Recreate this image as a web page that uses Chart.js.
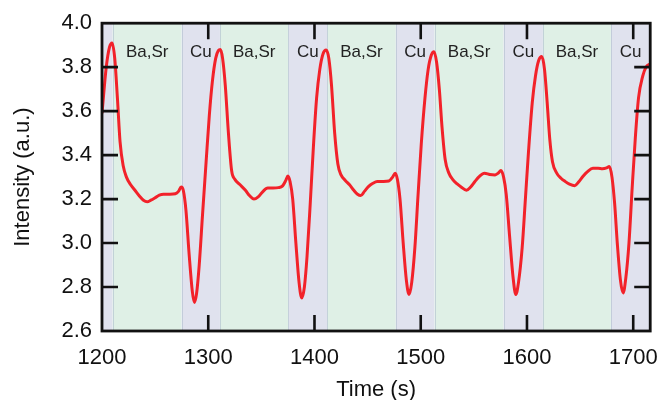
<!DOCTYPE html>
<html>
<head>
<meta charset="utf-8">
<script src="https://cdn.jsdelivr.net/npm/chart.js@4"></script>
<style>
  html, body { margin: 0; padding: 0; background: #ffffff; }
  #wrap { width: 672px; height: 400px; }
</style>
</head>
<body>
<div id="wrap"><canvas id="c" width="672" height="400"></canvas></div>
<script>
// Measured optical-emission intensity over time
const timeS = [
  1200, 1204, 1207, 1209.5, 1212, 1214.5, 1217, 1220, 1223, 1227, 1231, 1235, 1239, 1242.5, 1246, 1250,
  1254, 1258, 1264, 1269, 1272, 1274.5, 1276.5, 1279, 1282, 1285, 1287, 1289, 1291.5, 1294.5, 1298,
  1301, 1304, 1307, 1309.5, 1311.5, 1313.5, 1316, 1319, 1322, 1325, 1330, 1335, 1339, 1343, 1347,
  1351, 1356, 1361, 1366, 1370, 1373, 1375, 1377, 1379.5, 1382.5, 1385.5, 1388, 1390.5, 1393, 1396,
  1399, 1402, 1405, 1408, 1411, 1413.5, 1416, 1419, 1422, 1425, 1429, 1433, 1437, 1440.5, 1443.5,
  1447, 1451, 1455, 1459, 1465, 1470, 1473.5, 1476, 1478, 1480.5, 1483.5, 1486.5, 1489, 1491.5, 1494.5,
  1497.5, 1500.5, 1504, 1507, 1510, 1512.5, 1515, 1517.5, 1520, 1523, 1526.5, 1530, 1534, 1538, 1543,
  1547, 1551, 1555, 1560, 1565, 1570, 1573, 1575.5, 1578, 1580.5, 1583.5, 1587, 1589.5, 1592, 1595.5,
  1598.5, 1601.5, 1605, 1608, 1611, 1614, 1616.5, 1619, 1621.5, 1624, 1628, 1632, 1636, 1640, 1645,
  1649, 1653, 1657, 1662, 1667, 1671, 1675, 1677.5, 1680, 1682.5, 1685, 1688, 1690.5, 1693, 1696,
  1699, 1702, 1705, 1709, 1712, 1716
];
const intensity = [
  3.59, 3.80, 3.89, 3.91, 3.84, 3.66, 3.46, 3.35, 3.30, 3.265, 3.24, 3.215, 3.195, 3.188, 3.195, 3.206,
  3.218, 3.222, 3.222, 3.224, 3.235, 3.255, 3.24, 3.15, 2.95, 2.78, 2.73, 2.77, 2.90, 3.12, 3.37,
  3.58, 3.74, 3.84, 3.875, 3.88, 3.84, 3.72, 3.50, 3.33, 3.29, 3.265, 3.24, 3.215, 3.20, 3.21,
  3.232, 3.25, 3.25, 3.252, 3.26, 3.285, 3.305, 3.28, 3.20, 3.00, 2.82, 2.75, 2.80, 2.94, 3.18,
  3.44, 3.66, 3.79, 3.86, 3.878, 3.84, 3.72, 3.50, 3.36, 3.31, 3.285, 3.265, 3.24, 3.222, 3.216,
  3.235, 3.258, 3.272, 3.28, 3.28, 3.282, 3.30, 3.318, 3.29, 3.20, 3.00, 2.83, 2.766, 2.82, 2.98,
  3.22, 3.45, 3.66, 3.79, 3.855, 3.87, 3.82, 3.70, 3.53, 3.38, 3.318, 3.29, 3.27, 3.255, 3.24,
  3.255, 3.28, 3.302, 3.318, 3.312, 3.31, 3.318, 3.33, 3.30, 3.22, 3.04, 2.84, 2.766, 2.82, 2.98,
  3.20, 3.42, 3.64, 3.76, 3.83, 3.848, 3.79, 3.64, 3.47, 3.37, 3.318, 3.295, 3.28, 3.268, 3.261,
  3.28, 3.305, 3.325, 3.34, 3.34, 3.338, 3.342, 3.348, 3.30, 3.18, 3.00, 2.83, 2.773, 2.84, 3.00,
  3.25, 3.48, 3.66, 3.76, 3.80, 3.815
];

// Deposition phases: which precursor is being pulsed in each time window
const phaseStart = [1200, 1210, 1275, 1311, 1375.5, 1412, 1476.5, 1513, 1578, 1615, 1679];
const phaseEnd   = [1210, 1275, 1311, 1375.5, 1412, 1476.5, 1513, 1578, 1615, 1679, 1716];
const phaseName  = ['Cu', 'Ba,Sr', 'Cu', 'Ba,Sr', 'Cu', 'Ba,Sr', 'Cu', 'Ba,Sr', 'Cu', 'Ba,Sr', 'Cu'];
const phaseShowLabel = [false, true, true, true, true, true, true, true, true, true, true];

// Axis ranges and ticks
const xRange = [1200, 1716];
const xStep = 100;
const yRange = [2.6, 4.0];
const yStep = 0.2;

const FONT = "'Liberation Sans', Arial, Helvetica, sans-serif";
const phaseFill = { 'Cu': '#e0e2ee', 'Ba,Sr': '#dff0e6' };

const phaseBands = {
  id: 'phaseBands',
  beforeDatasetsDraw(chart) {
    const { ctx, chartArea: a, scales: { x } } = chart;
    ctx.save();
    for (let i = 0; i < phaseStart.length; i++) {
      const x0 = x.getPixelForValue(phaseStart[i]);
      const x1 = x.getPixelForValue(phaseEnd[i]);
      ctx.fillStyle = phaseFill[phaseName[i]];
      ctx.fillRect(x0, a.top, x1 - x0, a.bottom - a.top);
    }
    // faint separators between phases
    ctx.strokeStyle = 'rgba(175,190,205,0.6)';
    ctx.lineWidth = 1;
    for (let i = 1; i < phaseStart.length; i++) {
      const xp = Math.round(x.getPixelForValue(phaseStart[i])) + 0.5;
      ctx.beginPath();
      ctx.moveTo(xp, a.top);
      ctx.lineTo(xp, a.bottom);
      ctx.stroke();
    }
    ctx.fillStyle = '#222222';
    ctx.font = '17px ' + FONT;
    ctx.textAlign = 'center';
    ctx.textBaseline = 'alphabetic';
    for (let i = 0; i < phaseStart.length; i++) {
      if (!phaseShowLabel[i]) continue;
      const xc = (x.getPixelForValue(phaseStart[i]) + x.getPixelForValue(phaseEnd[i])) / 2;
      ctx.fillText(phaseName[i], xc, a.top + 34);
    }
    ctx.restore();
  }
};

const frameAndTicks = {
  id: 'frameAndTicks',
  afterDatasetsDraw(chart) {
    const { ctx, chartArea: a, scales: { x, y } } = chart;
    const len = 16;
    ctx.save();
    ctx.strokeStyle = '#111111';
    ctx.lineWidth = 2.6;
    ctx.lineCap = 'butt';
    ctx.beginPath();
    x.ticks.forEach(t => {
      if (t.value <= xRange[0] || t.value >= xRange[1]) return;
      const px = x.getPixelForValue(t.value);
      ctx.moveTo(px, a.bottom); ctx.lineTo(px, a.bottom - len);
      ctx.moveTo(px, a.top); ctx.lineTo(px, a.top + len);
    });
    y.ticks.forEach(t => {
      if (t.value <= yRange[0] + 1e-9 || t.value >= yRange[1] - 1e-9) return;
      const py = y.getPixelForValue(t.value);
      ctx.moveTo(a.left, py); ctx.lineTo(a.left + len, py);
      ctx.moveTo(a.right, py); ctx.lineTo(a.right - len, py);
    });
    ctx.stroke();
    ctx.lineWidth = 2.8;
    ctx.strokeRect(a.left, a.top, a.right - a.left, a.bottom - a.top);
    ctx.restore();
  }
};

new Chart(document.getElementById('c'), {
  type: 'line',
  data: {
    datasets: [{
      data: timeS.map((t, i) => ({ x: t, y: intensity[i] })),
      borderColor: '#f2222a',
      borderWidth: 3,
      pointRadius: 0,
      fill: false,
      cubicInterpolationMode: 'monotone'
    }]
  },
  options: {
    responsive: false,
    devicePixelRatio: 1,
    animation: false,
    layout: { padding: { top: 19, right: 10, left: 0, bottom: 0 } },
    plugins: { legend: { display: false }, tooltip: { enabled: false } },
    scales: {
      x: {
        type: 'linear',
        min: xRange[0],
        max: xRange[1],
        afterFit(s) { s.height = 69; },
        grid: { display: false, drawTicks: false },
        border: { display: false },
        ticks: {
          stepSize: xStep,
          includeBounds: false,
          padding: 14,
          color: '#111111',
          font: { family: FONT, size: 22 },
          maxRotation: 0,
          callback: v => String(v)
        },
        title: {
          display: true,
          text: 'Time (s)',
          color: '#111111',
          font: { family: FONT, size: 22, lineHeight: 1 },
          padding: { top: 0, bottom: -1 }
        }
      },
      y: {
        min: yRange[0],
        max: yRange[1],
        afterFit(s) { s.width = 102; },
        grid: { display: false, drawTicks: false },
        border: { display: false },
        ticks: {
          stepSize: yStep,
          padding: 10,
          color: '#111111',
          font: { family: FONT, size: 22 },
          callback: v => Number(v).toFixed(1)
        },
        title: {
          display: true,
          text: 'Intensity (a.u.)',
          color: '#111111',
          font: { family: FONT, size: 22, lineHeight: 1 },
          padding: { top: 12, bottom: 0 }
        }
      }
    }
  },
  plugins: [phaseBands, frameAndTicks]
});
</script>
</body>
</html>
